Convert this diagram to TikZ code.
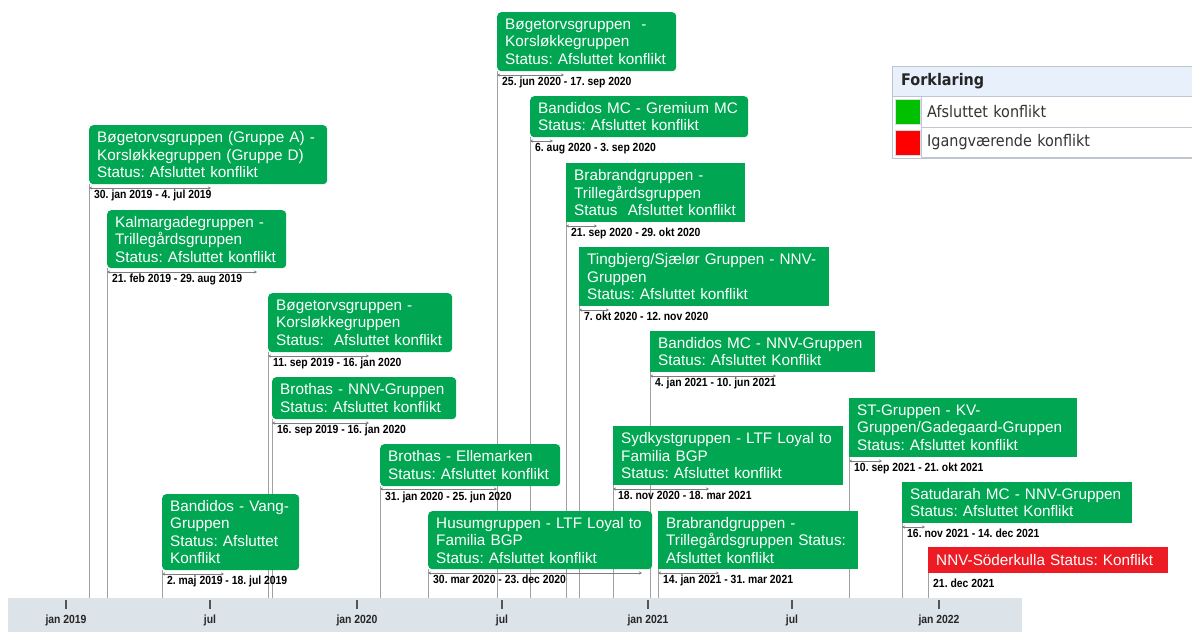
\documentclass[tikz,border=0pt]{standalone}
\usepackage{fontspec}
\setmainfont{Liberation Sans}
\newfontfamily\datefont[FakeStretch=0.88]{Liberation Sans}
\newfontfamily\legendfont[FakeStretch=0.9]{DejaVu Sans}
\usetikzlibrary{arrows.meta, positioning, backgrounds}
\frenchspacing
\hyphenpenalty=10000

\definecolor{evgreen}{RGB}{0,166,81}
\definecolor{evred}{RGB}{237,28,36}
\definecolor{axisband}{RGB}{220,227,233}
\definecolor{dropgray}{RGB}{160,160,160}
\definecolor{spangray}{RGB}{125,125,125}
\definecolor{tickgray}{RGB}{85,85,85}
\definecolor{legblue}{RGB}{232,241,251}
\definecolor{legline}{RGB}{190,198,208}
\definecolor{leggreen}{RGB}{0,192,0}
\definecolor{legred}{RGB}{255,0,0}

\tikzset{
  event/.style={fill=evgreen, text=white, anchor=north west, align=left, inner xsep=8pt, inner ysep=0pt, font=\fontsize{15.3}{17.5}\selectfont},
  roundbox/.style={rounded corners=4pt},
  span/.style={draw=spangray, line width=0.7pt, {Stealth[length=3pt,width=3pt]}-{Stealth[length=3pt,width=3pt]}},
  drop/.style={draw=dropgray, line width=0.7pt},
  datelabel/.style={anchor=north west, inner sep=0pt, font=\datefont\bfseries\fontsize{11.8}{13}\selectfont},
  tick/.style={draw=tickgray, line width=1.5pt},
  ticklabel/.style={inner sep=0pt, text=black!85, font=\datefont\bfseries\fontsize{11.8}{13}\selectfont},
  leghead/.style={anchor=north west, draw=legline, fill=legblue, minimum height=30pt, text width=292pt, inner xsep=9pt, align=left, text=black!85, font=\legendfont\bfseries\fontsize{16}{19}\selectfont},
  legcell/.style={anchor=north west, draw=legline, minimum height=30.5pt, text width=267pt, inner xsep=6pt, align=left, text=black!80, font=\legendfont\fontsize{16}{19}\selectfont},
  swatch/.style={draw=legline!60, minimum size=25pt, inner sep=0pt},
}

\begin{document}
\begin{tikzpicture}[x=1pt, y=-1pt]
\useasboundingbox (0,0) rectangle (1192,632);

\node[fill=axisband, anchor=north west, minimum width=1014pt, minimum height=34pt, inner sep=0pt] (band) at (8,598) {};
\foreach \x/\lbl [count=\i] in {66/jan 2019, 210/jul, 357/jan 2020, 502/jul, 648/jan 2021, 792/jul, 939/jan 2022} {
  \draw[tick] (\x,600) -- (\x,609);
  \node[ticklabel] (tl\i) at (\x,620) {\lbl};
}

\node[event, roundbox, text width=222pt, minimum height=59pt] (bogA) at (89,125) {Bøgetorvsgruppen (Gruppe A) -\\Korsløkkegruppen (Gruppe D)\\Status: Afsluttet konflikt};
\node[event, roundbox, text width=163pt, minimum height=58pt] (kalm) at (107,210) {Kalmargadegruppen -\\Trillegårdsgruppen\\Status: Afsluttet konflikt};
\node[event, roundbox, text width=168pt, minimum height=59pt] (bogK19) at (268,293) {Bøgetorvsgruppen -\\Korsløkkegruppen\\Status:\ \ Afsluttet konflikt};
\node[event, roundbox, text width=168pt, minimum height=42pt] (brNNV) at (272,377) {Brothas - NNV-Gruppen\\Status: Afsluttet konflikt};
\node[event, roundbox, text width=164pt, minimum height=42pt] (brEll) at (380,444) {Brothas - Ellemarken\\Status: Afsluttet konflikt};
\node[event, roundbox, text width=121pt, minimum height=76pt] (bandV) at (162,494) {Bandidos - Vang-\\Gruppen\\Status: Afsluttet\\Konflikt};
\node[event, roundbox, text width=163pt, minimum height=59pt] (bogK20) at (497,12) {Bøgetorvsgruppen\ \ -\\Korsløkkegruppen\\Status: Afsluttet konflikt};
\node[event, roundbox, text width=202pt, minimum height=41pt] (bandG) at (530,96) {Bandidos MC - Gremium MC\\Status: Afsluttet konflikt};
\node[event, text width=163pt, minimum height=59pt] (brabT20) at (566,163) {Brabrandgruppen -\\Trillegårdsgruppen\\Status\ \ Afsluttet konflikt};
\node[event, text width=234pt, minimum height=59pt] (tingb) at (579,247) {Tingbjerg/Sjælør Gruppen - NNV-\\Gruppen\\Status: Afsluttet konflikt};
\node[event, text width=209pt, minimum height=41pt] (bandNNV) at (650,331) {Bandidos MC - NNV-Gruppen\\Status: Afsluttet Konflikt};
\node[event, text width=214pt, minimum height=59pt] (sydk) at (613,426) {Sydkystgruppen - LTF Loyal to\\Familia BGP\\Status: Afsluttet konflikt};
\node[event, text width=212pt, minimum height=59pt] (stgr) at (849,398) {ST-Gruppen - KV-\\Gruppen/Gadegaard-Gruppen\\Status: Afsluttet konflikt};
\node[event, text width=214pt, minimum height=41pt] (satu) at (902,482) {Satudarah MC - NNV-Gruppen\\Status: Afsluttet Konflikt};
\node[event, fill=evred, text width=224pt, minimum height=26pt] (nnvsod) at (928,547) {NNV-Söderkulla Status: Konflikt};
\node[event, roundbox, text width=208pt, minimum height=58pt] (husum) at (428,511) {Husumgruppen - LTF Loyal to\\Familia BGP\\Status: Afsluttet konflikt};
\node[event, text width=184pt, minimum height=58pt] (brabT21) at (658,511) {Brabrandgruppen -\\Trillegårdsgruppen Status:\\Afsluttet konflikt};

\begin{scope}[on background layer]
\foreach \e in {bogA, kalm, bogK19, brNNV, brEll, bandV, bogK20, bandG, brabT20, tingb, bandNNV, sydk, stgr, satu, nnvsod, husum, brabT21}
  \draw[drop] (\e.south west) -- (\e.south west |- band.north);
\end{scope}

\coordinate (bogAend) at (211,188);
\coordinate (kalmend) at (257,272);
\coordinate (bogK19end) at (369,356);
\coordinate (brNNVend) at (369,423);
\coordinate (brEllend) at (497,489);
\coordinate (bandVend) at (224,574);
\coordinate (bogK20end) at (564,75);
\coordinate (bandGend) at (553,141);
\coordinate (brabT20end) at (597,226);
\coordinate (tingbend) at (609,310);
\coordinate (bandNNVend) at (776,376);
\coordinate (sydkend) at (709,489);
\coordinate (stgrend) at (882,461);
\coordinate (satuend) at (925,527);
\coordinate (husumend) at (642,573);
\coordinate (brabT21end) at (719,573);
\foreach \e in {bogA, kalm, bogK19, brNNV, brEll, bandV, bogK20, bandG, brabT20, tingb, bandNNV, sydk, stgr, satu, husum, brabT21}
  \draw[span] (\e.south west |- \e end) -- (\e end);

\node[datelabel] (bogAdate) at ([xshift=5pt, yshift=-5.5pt]bogA.south west) {30. jan 2019 - 4. jul 2019};
\node[datelabel] (kalmdate) at ([xshift=5pt, yshift=-5.5pt]kalm.south west) {21. feb 2019 - 29. aug 2019};
\node[datelabel] (bogK19date) at ([xshift=5pt, yshift=-5.5pt]bogK19.south west) {11. sep 2019 - 16. jan 2020};
\node[datelabel] (brNNVdate) at ([xshift=5pt, yshift=-5.5pt]brNNV.south west) {16. sep 2019 - 16. jan 2020};
\node[datelabel] (brElldate) at ([xshift=5pt, yshift=-5.5pt]brEll.south west) {31. jan 2020 - 25. jun 2020};
\node[datelabel] (bandVdate) at ([xshift=5pt, yshift=-5.5pt]bandV.south west) {2. maj 2019 - 18. jul 2019};
\node[datelabel] (bogK20date) at ([xshift=5pt, yshift=-5.5pt]bogK20.south west) {25. jun 2020 - 17. sep 2020};
\node[datelabel] (bandGdate) at ([xshift=5pt, yshift=-5.5pt]bandG.south west) {6. aug 2020 - 3. sep 2020};
\node[datelabel] (brabT20date) at ([xshift=5pt, yshift=-5.5pt]brabT20.south west) {21. sep 2020 - 29. okt 2020};
\node[datelabel] (tingbdate) at ([xshift=5pt, yshift=-5.5pt]tingb.south west) {7. okt 2020 - 12. nov 2020};
\node[datelabel] (bandNNVdate) at ([xshift=5pt, yshift=-5.5pt]bandNNV.south west) {4. jan 2021 - 10. jun 2021};
\node[datelabel] (sydkdate) at ([xshift=5pt, yshift=-5.5pt]sydk.south west) {18. nov 2020 - 18. mar 2021};
\node[datelabel] (stgrdate) at ([xshift=5pt, yshift=-5.5pt]stgr.south west) {10. sep 2021 - 21. okt 2021};
\node[datelabel] (satudate) at ([xshift=5pt, yshift=-5.5pt]satu.south west) {16. nov 2021 - 14. dec 2021};
\node[datelabel] (nnvsoddate) at ([xshift=5pt, yshift=-5.5pt]nnvsod.south west) {21. dec 2021};
\node[datelabel] (husumdate) at ([xshift=5pt, yshift=-5.5pt]husum.south west) {30. mar 2020 - 23. dec 2020};
\node[datelabel] (brabT21date) at ([xshift=5pt, yshift=-5.5pt]brabT21.south west) {14. jan 2021 - 31. mar 2021};

\node[leghead] (legend) at (892,66) {Forklaring};
\node[legcell] (legdone) at (921,96) {Afsluttet konflikt};
\node[legcell, below=0pt of legdone] (legrun) {Igangværende konflikt};
\node[swatch, fill=leggreen, left=1pt of legdone] (sqdone) {};
\node[swatch, fill=legred, left=1pt of legrun] (sqrun) {};
\draw[legline] (legend.north west) rectangle (legrun.south east);
\end{tikzpicture}
\end{document}
